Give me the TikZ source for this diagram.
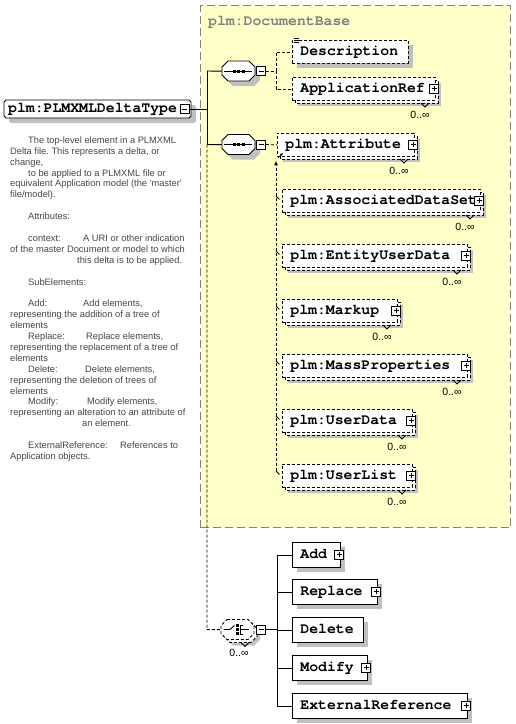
\documentclass[tikz,border=0pt]{standalone}
\usepackage{fontspec}
\setmainfont{Liberation Sans}
\newfontfamily\monofam{texgyrecursor}[Extension=.otf, UprightFont=*-regular, BoldFont=*-bold]
\usetikzlibrary{arrows.meta}
\definecolor{yel}{RGB}{255,255,200}
\definecolor{shc}{RGB}{192,192,192}
\definecolor{descc}{RGB}{70,70,70}
\definecolor{bordc}{RGB}{128,128,128}
\frenchspacing
\newcommand\mb{\monofam\bfseries\fontsize{14.8}{16}\selectfont}
\newcommand\octpath[5]{({#1+#5},#2) -- ({#3-#5},#2) -- (#3,{#2+#5}) -- (#3,{#4-#5}) -- ({#3-#5},#4) -- ({#1+#5},#4) -- (#1,{#4-#5}) -- (#1,{#2+#5}) -- cycle}
\tikzset{
 lw/.style={line width=0.9pt},
 dsh/.style={dash pattern=on 3pt off 2pt},
 ebox/.style={draw, fill=white, rectangle, anchor=north west, inner xsep=8pt, inner ysep=0pt, font=\mb, text height=9pt, text depth=2.5pt, line width=0.9pt},
 pmbox/.style={draw, fill=white, rectangle, minimum size=9pt, inner sep=0pt, line width=0.8pt},
 plusbox/.style={pmbox, path picture={\draw[line width=0.8pt] ([xshift=2pt]path picture bounding box.west) -- ([xshift=-2pt]path picture bounding box.east); \draw[line width=0.8pt] ([yshift=2pt]path picture bounding box.south) -- ([yshift=-2pt]path picture bounding box.north);}},
 minusbox/.style={pmbox, path picture={\draw[line width=0.8pt] ([xshift=2pt]path picture bounding box.west) -- ([xshift=-2pt]path picture bounding box.east);}},
 occ/.style={font=\fontsize{10.5}{10.5}\selectfont, inner sep=0pt},
 desc/.style={font=\fontsize{9.3}{11}\selectfont, text=descc, anchor=base west, inner sep=0pt},
 octnode/.style={minimum width=33pt, minimum height=20pt, inner sep=0pt, anchor=north west},
}
% single box: style, name, x, y, w, h, text
\newcommand\single[7]{%
 \fill[shc] ({#3+5},{#4+5}) rectangle ({#3+#5+5},{#4+#6+5});
 \node[ebox,#1, minimum width=#5pt, minimum height=#6pt] (#2) at (#3,#4) {\makebox[\dimexpr#5pt-16pt\relax][l]{#7}};}
% stacked (0..unbounded) dashed box: name, x, y, w, text
\newcommand\stacked[5]{%
 \fill[shc] ({#2+6},{#3+6}) rectangle ({#2+#4+6},{#3+29});
 \draw[lw,dsh,fill=white] ({#2+3},{#3+3}) rectangle ({#2+#4+3},{#3+26});
 \node[ebox,dsh, minimum width=#4pt, minimum height=23pt] (#1) at (#2,#3) {\makebox[\dimexpr#4pt-16pt\relax][l]{#5}};
 \node[plusbox] (#1-p) at ({#2+#4-1},{#3+11.5}) {};
 \draw[line width=0.8pt] ({#2+#4+3-17},{#3+26}) -- ({#2+#4+3-13},{#3+30}) -- ({#2+#4+3-9},{#3+26});
 \node[occ] (#1-o) at ({#2+#4+3-18},{#3+38}) {0..∞};}
\newcommand\dl[4]{\node[desc] (#1) at (#2,{140+10.9*(#3-1)+3.3}) {#4};}

\begin{document}
\begin{tikzpicture}[x=1pt,y=-1pt]
\useasboundingbox (0,0) rectangle (516,724);
\fill[white] (0,0) rectangle (516,724);

% DocumentBase group
\node[draw=bordc, line width=1pt, dash pattern=on 8pt off 4pt, fill=yel, minimum width=310pt, minimum height=522pt, anchor=north west, inner sep=0pt] (base) at (200,5) {};
\node[font=\mb, text=bordc, anchor=base west, inner sep=0pt] (base-l) at (208,25) {plm:DocumentBase};

% root element
\fill[shc] \octpath{9}{105}{196}{123}{2};
\fill[white] \octpath{4}{100}{191}{118}{2};
\node[font=\mb, anchor=north west, minimum width=187pt, minimum height=18pt, inner xsep=4pt, inner ysep=0pt, text height=9pt, text depth=2.5pt] (main) at (4,100) {\makebox[179pt][l]{plm:PLMXMLDeltaType}};
\draw[lw] \octpath{4}{100}{191}{118}{2};
\node[minusbox] (main-m) at (184.5,109) {};

% description text
\dl{d1}{28}{1}{The top-level element in a PLMXML}
\dl{d2}{10}{2}{Delta file. This represents a delta, or}
\dl{d3}{10}{3}{change,}
\dl{d4}{28}{4}{to be applied to a PLMXML file or}
\dl{d5}{10}{5}{equivalent Application model (the \textquotesingle master\textquotesingle}
\dl{d6}{10}{6}{file/model).}
\dl{d8}{28}{8}{Attributes:}
\dl{d10}{28}{10}{context:}
\dl{d10b}{83}{10}{A URI or other indication}
\dl{d11}{10}{11}{of the master Document or model to which}
\dl{d12}{77}{12}{this delta is to be applied.}
\dl{d14}{28}{14}{SubElements:}
\dl{d16}{28}{16}{Add:}
\dl{d16b}{83}{16}{Add elements,}
\dl{d17}{10}{17}{representing the addition of a tree of}
\dl{d18}{10}{18}{elements}
\dl{d19}{28}{19}{Replace:}
\dl{d19b}{86}{19}{Replace elements,}
\dl{d20}{10}{20}{representing the replacement of a tree of}
\dl{d21}{10}{21}{elements}
\dl{d22}{28}{22}{Delete:}
\dl{d22b}{85}{22}{Delete elements,}
\dl{d23}{10}{23}{representing the deletion of trees of}
\dl{d24}{10}{24}{elements}
\dl{d25}{28}{25}{Modify:}
\dl{d25b}{87}{25}{Modify elements,}
\dl{d26}{10}{26}{representing an alteration to an attribute of}
\dl{d27}{82}{27}{an element.}
\dl{d29}{28}{29}{ExternalReference:}
\dl{d29b}{120}{29}{References to}
\dl{d30}{10}{30}{Application objects.}

% sequence 1
\node[octnode] (seq1) at (222,61) {};
\fill[shc] \octpath{227}{66}{260}{86}{6};
\draw[lw,fill=white] \octpath{222}{61}{255}{81}{6};
\draw[lw] ([xshift=2pt]seq1.west) -- ([xshift=-3pt]seq1.east);
\foreach \dx in {-4.5,0,4.5} \fill ([xshift=\dx pt]seq1.center) +(-1.5pt,-1.5pt) rectangle +(1.5pt,1.5pt);
\node[minusbox] (seq1-m) at (261,71) {};

% sequence 2
\node[octnode] (seq2) at (222,134.5) {};
\fill[shc] \octpath{227}{139.5}{260}{159.5}{6};
\draw[lw,fill=white] \octpath{222}{134.5}{255}{154.5}{6};
\draw[lw] ([xshift=2pt]seq2.west) -- ([xshift=-3pt]seq2.east);
\foreach \dx in {-4.5,0,4.5} \fill ([xshift=\dx pt]seq2.center) +(-1.5pt,-1.5pt) rectangle +(1.5pt,1.5pt);
\node[minusbox] (seq2-m) at (261,144.5) {};

% choice
\node[octnode] (choice) at (221,619.5) {};
\fill[shc] \octpath{227}{625.5}{260}{645.5}{6};
\draw[lw,dsh,fill=white] \octpath{224}{622.5}{257}{642.5}{6};
\draw[lw,dsh,fill=white] \octpath{221}{619.5}{254}{639.5}{6};
\draw[line width=0.8pt] (241,642.5) -- (245,646.5) -- (249,642.5);
\node[occ] (choice-o) at (239,653) {0..∞};
\draw[lw] (223.5,629.5) -- (230,629.5) -- (234.5,625.5);
\foreach \yy in {625.5,629.5,633.5} \fill (236.3,{\yy-1.3}) rectangle (238.9,{\yy+1.3});
\draw[lw] (243,625) -- (240.8,625) -- (240.8,634) -- (243,634);
\draw[lw] (240.8,629.5) -- (249,629.5);
\node[minusbox] (choice-m) at (261,629.5) {};

% trunk connectors
\coordinate (j1) at (207,109);
\coordinate (jt) at (207,71);
\coordinate (jm) at (207,144.5);
\coordinate (jb) at (207,629.5);
\draw[lw] (main-m.east) -- (j1);
\draw[lw] (jt) -- (jm);
\draw[lw] (jt) -- (seq1.west);
\draw[lw] (jm) -- (seq2.west);
\draw[lw,dsh] (jm) -- (jb) -- (choice.west);

% group 1
\single{dsh}{desc}{292}{40}{116}{23}{Description}
\draw[line width=0.6pt] (293.5,38.5) -- (298.5,38.5) (293.5,40.5) -- (298.5,40.5) (293.5,42.5) -- (298.5,42.5);
\stacked{appref}{292}{77}{143}{ApplicationRef}
\coordinate (k1) at (276,71);
\draw[lw,dsh] (seq1-m.east) -- (k1);
\draw[lw,dsh] (k1) |- (desc.west);
\draw[lw,dsh] (k1) |- (appref.west);

% group 2
\stacked{attr}{277}{133}{137}{plm:Attribute}
\draw[lw,dsh] (seq2-m.east) -- (attr.west);
\stacked{ads}{282}{189}{198}{plm:AssociatedDataSet}
\stacked{eud}{282}{244}{185}{plm:EntityUserData}
\stacked{markup}{282}{299}{115}{plm:Markup}
\stacked{mass}{282}{354}{185}{plm:MassProperties}
\stacked{udata}{282}{409}{130}{plm:UserData}
\stacked{ulist}{282}{464}{130}{plm:UserList}
\coordinate (st) at (276,161);
\coordinate (sb) at (276,470.5);
\draw[lw,dsh,-{Latex[length=4pt,width=4pt]}] (sb) -- (st);
\draw[line width=0.8pt,-{Latex[length=3pt,width=3pt]}] ([xshift=1pt,yshift=-1pt]attr.south west) -- ([xshift=6pt,yshift=4pt]attr.south west);
\foreach \n in {ads,eud,markup,mass,udata,ulist}
  \draw[line width=0.8pt] ([xshift=-6pt,yshift=5pt]\n.west) -- ([xshift=-2.5pt,yshift=1.5pt]\n.west);

% bottom group
\single{}{add}{292}{542}{48}{25}{Add}
\single{}{repl}{292}{579}{85}{25}{Replace}
\single{}{del}{292}{617}{71}{25}{Delete}
\single{}{modi}{292}{655}{75}{25}{Modify}
\single{}{extref}{292}{693}{175}{25}{ExternalReference}
\node[plusbox] (add-p) at (339,554.5) {};
\node[plusbox] (repl-p) at (376,591.5) {};
\node[plusbox] (modi-p) at (366,667.5) {};
\node[plusbox] (extref-p) at (466,705.5) {};
\coordinate (bj) at (277,629.5);
\coordinate (bt) at (277,554.5);
\coordinate (bz) at (277,705.5);
\draw[lw] (choice-m.east) -- (bj);
\draw[lw] (bt) -- (bz);
\foreach \n in {add,repl,del,modi,extref}
  \draw[lw] (\n.west -| bj) -- (\n.west);
\end{tikzpicture}
\end{document}
